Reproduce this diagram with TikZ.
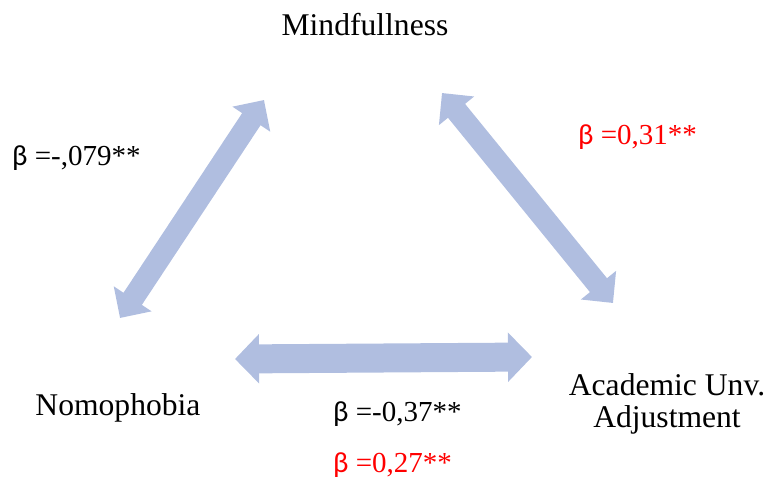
\documentclass[tikz,border=0pt]{standalone}
\usepackage{fontspec}
\setmainfont{Liberation Serif}
\newfontfamily\betafont{Carlito}
\usepackage{xcolor}
\usetikzlibrary{arrows.meta,positioning}
\definecolor{linkblue}{HTML}{B0BEE0}
\definecolor{coefred}{HTML}{FF0000}
\newcommand{\bt}{{\betafont β}}
\tikzset{
  varname/.style={font=\fontsize{31.6}{32}\selectfont,align=center,inner sep=0pt},
  coef/.style={font=\fontsize{29}{32}\selectfont,anchor=west,inner sep=0pt},
  coefneg/.style={coef,text=black},
  coefpos/.style={coef,text=coefred},
  linkarr/.style={{Triangle[length=23pt,width=44pt]}-{Triangle[length=23pt,width=44pt]},
                  line width=22pt,color=linkblue},
  widearr/.style={{Triangle[length=24pt,width=48pt]}-{Triangle[length=24pt,width=48pt]},
                  line width=29pt,color=linkblue}
}

\begin{document}
\begin{tikzpicture}[x=1pt,y=-1pt]
  \useasboundingbox (0,0) rectangle (768,486);
  % variables
  \node[varname] (mind) at (365,25) {Mindfullness};
  \node[varname] (nomo) at (118,408) {Nomophobia};
  \node[varname] (acad) at (667,404) {Academic Unv.\\Adjustment};
  % arrow ends
  \coordinate (nm) at (120,318);
  \coordinate (mn) at (264,100);
  \coordinate (ma) at (442,93);
  \coordinate (am) at (613,303);
  \coordinate (na) at (235,359);
  \coordinate (an) at (532,357);
  \draw[linkarr] (nm) -- (mn);
  \draw[linkarr] (ma) -- (am);
  \draw[widearr] (na) -- (an);
  % coefficients
  \node[coefneg] (cnm) at (12,158) {\bt\ =-,079**};
  \node[coefpos] (cma) at (578,137) {\bt\ =0,31**};
  \node[coefneg] (cna) at (333,414) {\bt\ =-0,37**};
  \node[coefpos] (cnb) at (333,465) {\bt\ =0,27**};
\end{tikzpicture}
\end{document}
